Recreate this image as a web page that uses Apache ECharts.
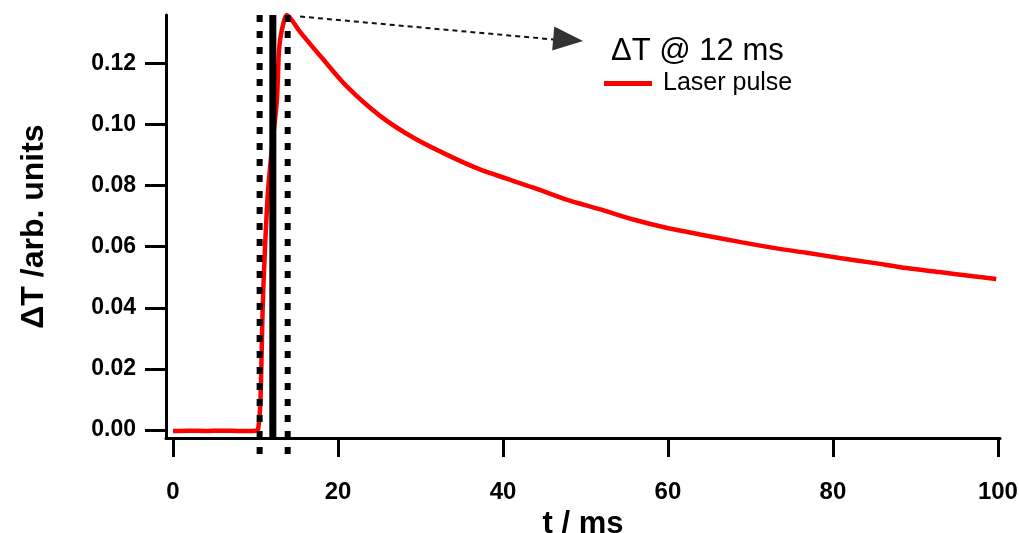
<!DOCTYPE html>
<html>
<head>
<meta charset="utf-8">
<script src="https://cdn.jsdelivr.net/npm/echarts@6/dist/echarts.min.js"></script>
<style>html,body{margin:0;padding:0;background:#fff}#c{width:1019px;height:533px}</style>
</head>
<body>
<div id="c"></div>
<script>
// ---- data ----
var tValues = [0, 2, 4, 6, 8, 10, 10.3, 10.6, 10.9, 11.5, 12.1, 12.6, 12.85, 13.2, 13.8, 15.4, 18.2, 21.0, 25.1, 29.1, 33.1, 37.2, 43.7, 47.7, 51.8, 55.8, 59.8, 63.9, 69.0, 72.8, 76.8, 80.8, 84.9, 88.9, 92.9, 97.0, 99.8];
var dTValues = [-0.0003, -0.0002, -0.0003, -0.0002, -0.0003, -0.0002, 0.0000, 0.0098, 0.0426, 0.0776, 0.0950, 0.1080, 0.1244, 0.1310, 0.1358, 0.1303, 0.1213, 0.1126, 0.1028, 0.0957, 0.0902, 0.0853, 0.0793, 0.0754, 0.0722, 0.0689, 0.0662, 0.0640, 0.0614, 0.0596, 0.0580, 0.0563, 0.0547, 0.0530, 0.0517, 0.0503, 0.0494];
var xTicks = [0, 20, 40, 60, 80, 100];
var yTicks = [0, 0.02, 0.04, 0.06, 0.08, 0.10, 0.12];
var dottedLeftT = 10.5;
var solidT = 12.1;
var dottedRightT = 13.9;
var arrowStart = [15.4, 0.1353];
var arrowLineEnd = [46.1, 0.1278];
var arrowHead = [47.9, 0.1277];
var seriesName = 'Laser pulse';
var annotation = '\u0394T @ 12 ms';

var xMin = -0.85, xMax = 100.25, yMin = -0.0026, yMax = 0.1358;
var curve = tValues.map(function (t, i) { return [t, dTValues[i]]; });
var font = 'Liberation Sans, Arial, sans-serif';

var chart = echarts.init(document.getElementById('c'), null, {renderer: 'canvas'});
chart.setOption({
  animation: false,
  backgroundColor: '#fff',
  grid: {left: 166, right: 19, top: 15, bottom: 95, containLabel: false, outerBoundsMode: 'none'},
  title: {
    text: annotation, left: 611, top: 36, padding: 0,
    textStyle: {fontFamily: font, fontSize: 31, fontWeight: 'normal', color: '#000'}
  },
  legend: {
    data: [seriesName], left: 604, top: 71, padding: 0,
    icon: 'rect', itemWidth: 48, itemHeight: 5,
    textStyle: {fontFamily: font, fontSize: 25, color: '#000', padding: [0, 0, 0, 6]}
  },
  xAxis: {
    type: 'value', min: xMin, max: xMax,
    name: 't / ms', nameLocation: 'middle', nameGap: 66,
    nameTextStyle: {fontFamily: font, fontSize: 31, fontWeight: 'bold', color: '#000'},
    axisLine: {show: true, onZero: false, lineStyle: {color: '#000', width: 3}},
    axisTick: {show: true, customValues: xTicks, length: 19, lineStyle: {color: '#000', width: 3}},
    axisLabel: {customValues: xTicks, margin: 42, fontFamily: font, fontSize: 24, fontWeight: 'bold', color: '#000'},
    splitLine: {show: false}
  },
  yAxis: {
    type: 'value', min: yMin, max: yMax,
    name: '\u0394T /arb. units', nameLocation: 'middle', nameGap: 116, nameRotate: 90,
    nameTextStyle: {fontFamily: font, fontSize: 32, fontWeight: 'bold', color: '#000'},
    axisLine: {show: true, onZero: false, lineStyle: {color: '#000', width: 3}},
    axisTick: {show: true, customValues: yTicks, length: 21, lineStyle: {color: '#000', width: 3}},
    axisLabel: {customValues: yTicks, margin: 30, fontFamily: font, fontSize: 23, fontWeight: 'bold', color: '#000',
      formatter: function (v) { return v.toFixed(2); }},
    splitLine: {show: false}
  },
  series: [
    {
      name: seriesName, type: 'line', data: curve, showSymbol: false, symbol: 'none',
      smooth: 0.25, lineStyle: {color: '#ff0000', width: 4.5}, itemStyle: {color: '#ff0000'}, z: 2
    },
    {
      name: 'dotL', type: 'line', data: [[dottedLeftT, yMax], [dottedLeftT, -0.0091]], symbol: 'none', clip: false,
      lineStyle: {color: '#000', width: 6, type: [7, 9], cap: 'butt'}, z: 3, silent: true
    },
    {
      name: 'solid', type: 'line', data: [[solidT, yMax], [solidT, yMin]], symbol: 'none', clip: false,
      lineStyle: {color: '#000', width: 7}, z: 3, silent: true
    },
    {
      name: 'dotR', type: 'line', data: [[dottedRightT, yMax], [dottedRightT, -0.0105]], symbol: 'none', clip: false,
      lineStyle: {color: '#000', width: 6, type: [7, 9], cap: 'butt'}, z: 3, silent: true
    },
    {
      name: 'arrowLine', type: 'line', data: [arrowStart, arrowLineEnd], symbol: 'none', clip: false,
      lineStyle: {color: '#111', width: 2, type: [5, 4]}, z: 3, silent: true
    },
    {
      name: 'arrowHead', type: 'scatter', data: [arrowHead], clip: false,
      symbol: 'path://M0,0 L30,12 L0,24 Z', symbolSize: [30, 24], symbolRotate: -5,
      itemStyle: {color: '#000'}, z: 3, silent: true
    }
  ]
});
</script>
</body>
</html>
